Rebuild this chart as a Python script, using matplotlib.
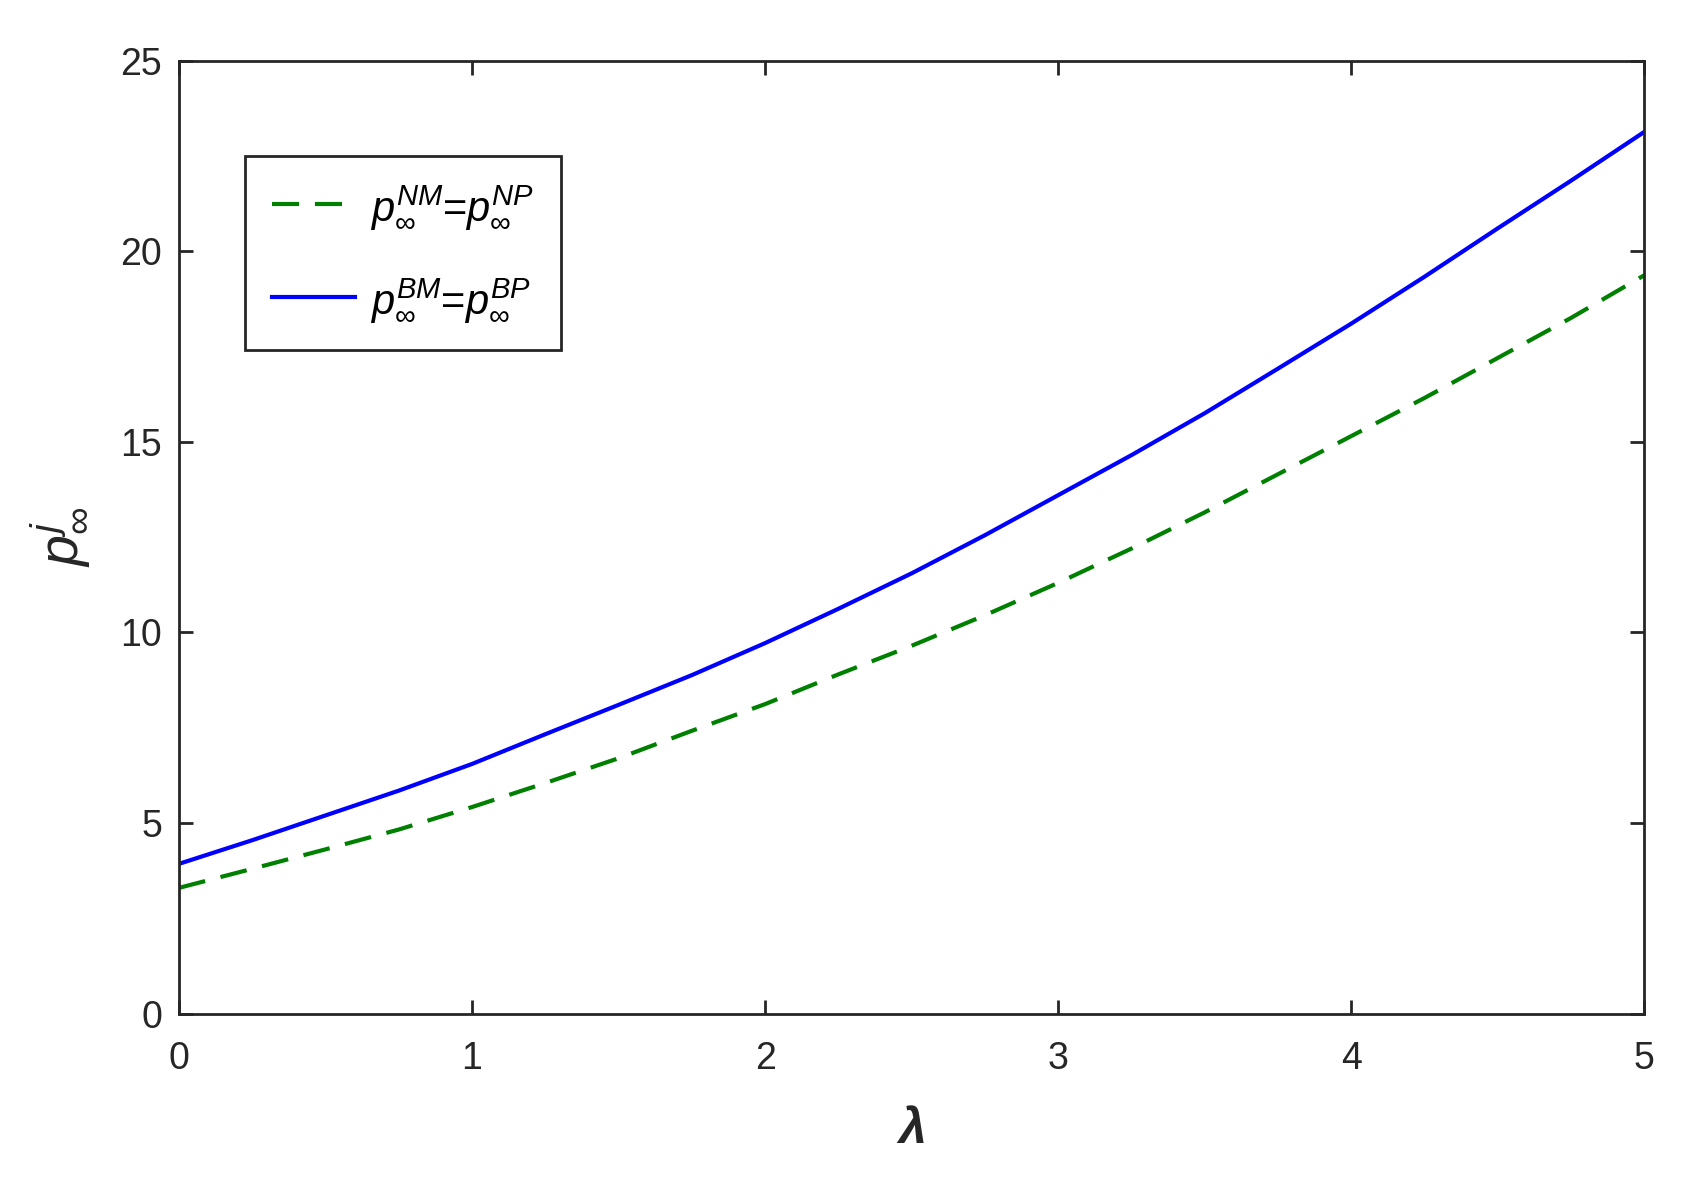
import matplotlib
matplotlib.use('Agg')
import matplotlib.pyplot as plt

plt.rcParams['font.family'] = ['Liberation Sans', 'DejaVu Sans']
plt.rcParams['mathtext.fontset'] = 'custom'
plt.rcParams['mathtext.rm'] = 'Liberation Sans'
plt.rcParams['mathtext.it'] = 'Liberation Sans:italic'
plt.rcParams['mathtext.bf'] = 'Liberation Sans:bold'

# values
lam = [0, 0.25, 0.5, 0.75, 1, 1.25, 1.5, 1.75, 2, 2.25, 2.5,
       2.75, 3, 3.25, 3.5, 3.75, 4, 4.25, 4.5, 4.75, 5]
p_nm = [3.3, 3.8, 4.31, 4.83, 5.42, 6.05, 6.7, 7.42, 8.12, 8.9, 9.65,
        10.45, 11.3, 12.2, 13.15, 14.15, 15.15, 16.15, 17.2, 18.25, 19.37]
p_bm = [3.93, 4.55, 5.2, 5.85, 6.55, 7.33, 8.1, 8.88, 9.72, 10.62, 11.55,
        12.55, 13.6, 14.65, 15.75, 16.92, 18.1, 19.33, 20.6, 21.85, 23.13]
xticks = [0, 1, 2, 3, 4, 5]
yticks = [0, 5, 10, 15, 20, 25]

fig = plt.figure(figsize=(17.04, 11.87), dpi=100)
ax = fig.add_axes([0.105, 0.146, 0.86, 0.803])

ax.plot(lam, p_nm, color='#008000', lw=3, linestyle=(0, (6.5, 3.8)),
        label=r'$p^{NM}_{\infty}$=$p^{NP}_{\infty}$')
ax.plot(lam, p_bm, color='#0000ff', lw=3,
        label=r'$p^{BM}_{\infty}$=$p^{BP}_{\infty}$')

ax.set_xlim(0, 5)
ax.set_ylim(0, 25)
ax.set_xticks(xticks)
ax.set_yticks(yticks)
ax.tick_params(direction='in', length=10, width=2, top=True, right=True,
               labelsize=27, colors='#262626')
ax.tick_params(axis='x', pad=20)
ax.tick_params(axis='y', pad=12)
for s in ax.spines.values():
    s.set_linewidth(2)
    s.set_color('#262626')

ax.set_xlabel('λ', fontsize=36, fontweight='bold', style='italic',
              color='#262626')
ax.xaxis.set_label_coords(0.5, -0.098)
ax.set_ylabel(r'$p^{j}_{\infty}$', fontsize=40, color='#262626', labelpad=22)

leg = ax.legend(loc='upper left', bbox_to_anchor=(0.045, 0.9), borderaxespad=0,
                fontsize=30, fancybox=False, edgecolor='#262626', framealpha=1,
                handlelength=2.0, handletextpad=0.35, borderpad=0.65,
                labelspacing=1.1)
leg.get_frame().set_linewidth(2)

fig.savefig('out.png', dpi=100)
